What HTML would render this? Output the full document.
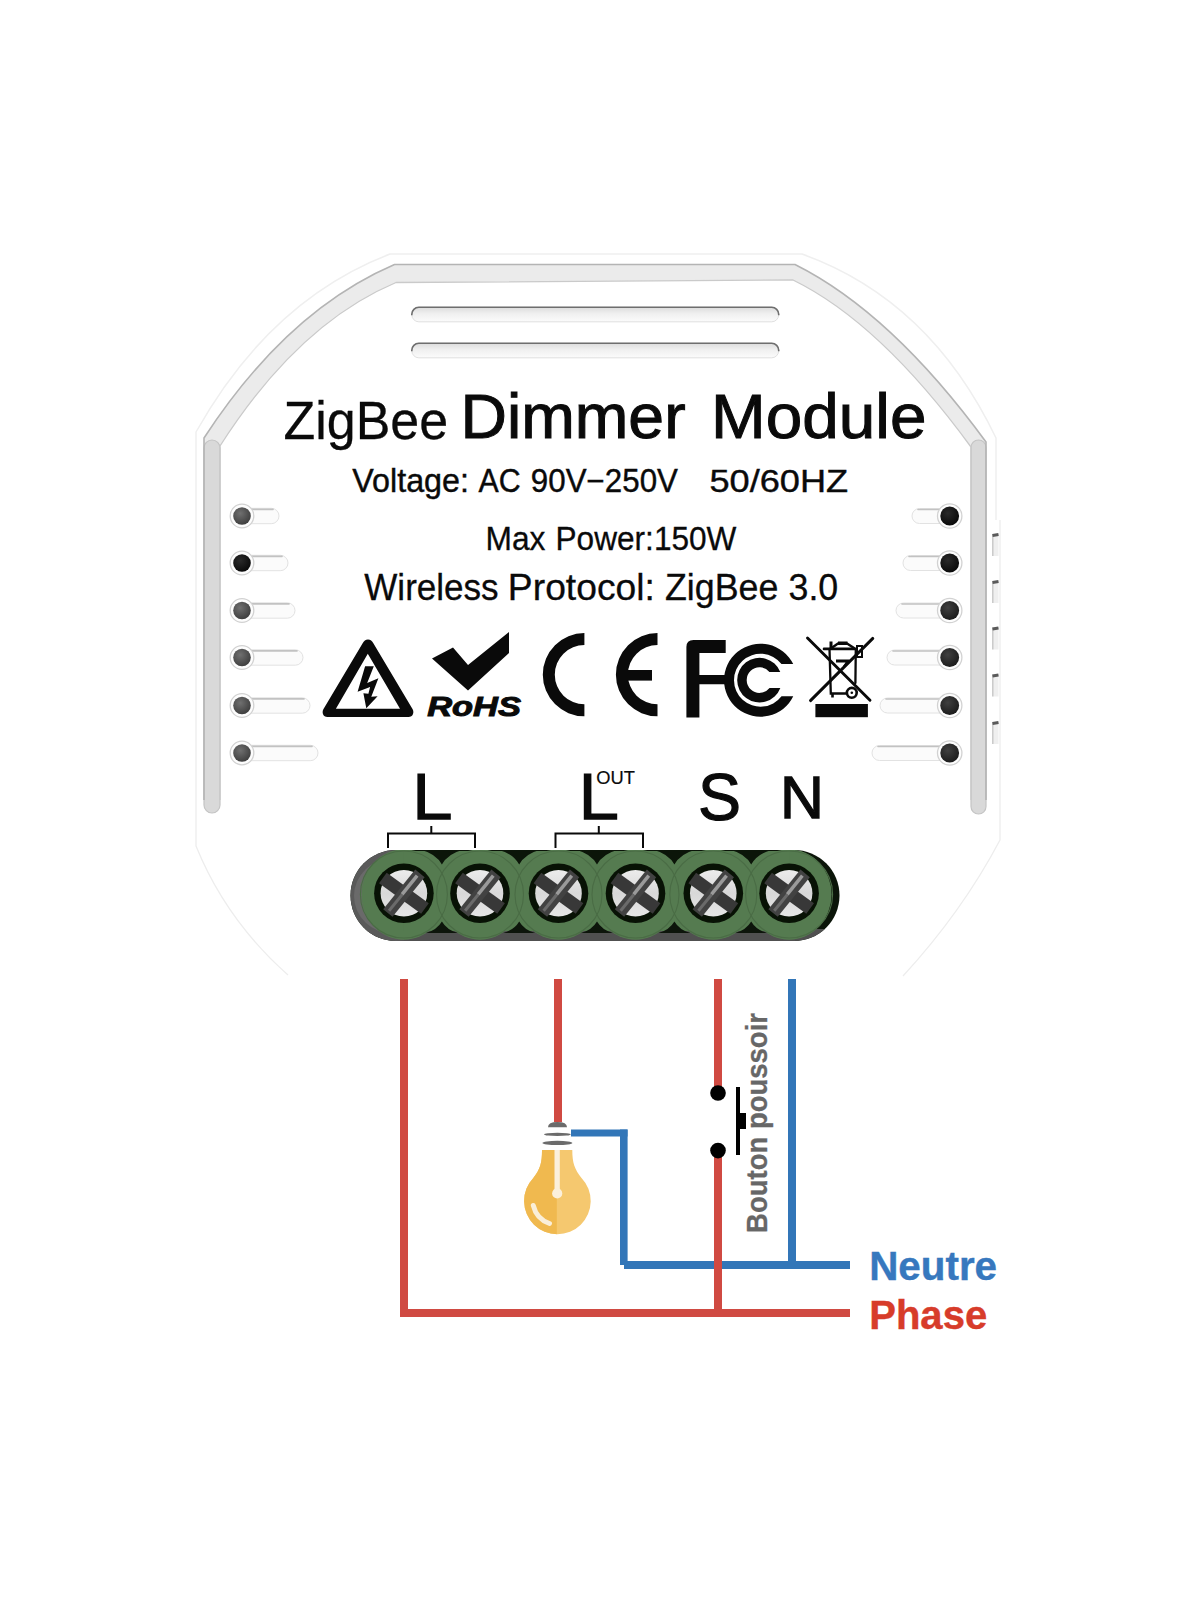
<!DOCTYPE html>
<html><head><meta charset="utf-8">
<style>
html,body{margin:0;padding:0;background:#fff;width:1200px;height:1600px;overflow:hidden}
svg{display:block}
text{font-family:"Liberation Sans",sans-serif}
</style></head>
<body>
<svg width="1200" height="1600" viewBox="0 0 1200 1600">
<defs>
<radialGradient id="dotg" cx="0.4" cy="0.35" r="0.7">
<stop offset="0" stop-color="#707070"/><stop offset="1" stop-color="#3c3c3c"/>
</radialGradient>
<radialGradient id="dotk" cx="0.4" cy="0.35" r="0.7">
<stop offset="0" stop-color="#2a2a2a"/><stop offset="1" stop-color="#080808"/>
</radialGradient>
<radialGradient id="dotr" cx="0.4" cy="0.35" r="0.7">
<stop offset="0" stop-color="#404040"/><stop offset="1" stop-color="#1a1a1a"/>
</radialGradient>
<linearGradient id="silver" x1="0" y1="0" x2="0" y2="1">
<stop offset="0" stop-color="#ececec"/><stop offset="0.5" stop-color="#d8d8d8"/><stop offset="1" stop-color="#e6e6e6"/>
</linearGradient>
<linearGradient id="blockside" x1="0" y1="0" x2="1" y2="0">
<stop offset="0" stop-color="#9a9a9a"/><stop offset="0.5" stop-color="#5a5a5a"/><stop offset="1" stop-color="#2a2a2a"/>
</linearGradient>
</defs>
<rect width="1200" height="1600" fill="#fff"/>

<path d="M196 520 L196 846 Q226 920 288 975 M1000 520 L1000 840 Q962 912 903 976" fill="none" stroke="#ededed" stroke-width="1.3"/>
<path d="M196 520 L196 432 Q270 300 390 254 L802 254 Q930 300 996 438 L996 520" fill="none" stroke="#efefef" stroke-width="1.5"/>
<path d="M204 800 L204 438 Q286.8 310.8 394.5 264.5 L795 264.5 Q891.5 312.8 986 442 L986 800 L971 800 L971 447 Q880.0 322.5 793 280 L396 282.5 Q298.0 323.8 220 446 L220 800 Z" fill="#ebebeb"/>
<rect x="204" y="440" width="16" height="373" rx="8" fill="#d9d9d9" stroke="#c4c4c4" stroke-width="1.2"/>
<rect x="971" y="440" width="15" height="374" rx="7.5" fill="#d9d9d9" stroke="#c4c4c4" stroke-width="1.2"/>
<path d="M204 800 L204 438 Q286.8 310.8 394.5 264.5 L795 264.5 Q891.5 312.8 986 442 L986 800" fill="none" stroke="#b4b4b4" stroke-width="1.6"/>
<path d="M220 800 L220 446 Q298.0 323.8 396 282.5 L793 280 Q880.0 322.5 971 447 L971 800" fill="none" stroke="#cacaca" stroke-width="1.3"/>
<clipPath id="bandclip"><rect x="150" y="200" width="900" height="604"/></clipPath>
<linearGradient id="ventg" x1="0" y1="0" x2="0" y2="1"><stop offset="0" stop-color="#dcdcdc"/><stop offset="0.45" stop-color="#f0f0f0"/><stop offset="1" stop-color="#fbfbfb"/></linearGradient>
<rect x="411.8" y="307.3" width="366.9" height="14.5" rx="7" fill="url(#ventg)" stroke="#d8d8d8" stroke-width="0.8"/>
<path d="M411.8 315.3 L411.8 314.3 A7 7 0 0 1 418.8 307.3 L771.7 307.3 A7 7 0 0 1 778.7 314.3 L778.7 315.3" fill="none" stroke="#6e6e6e" stroke-width="1.6"/>
<rect x="411.8" y="343.3" width="366.9" height="14.5" rx="7" fill="url(#ventg)" stroke="#d8d8d8" stroke-width="0.8"/>
<path d="M411.8 351.3 L411.8 350.3 A7 7 0 0 1 418.8 343.3 L771.7 343.3 A7 7 0 0 1 778.7 350.3 L778.7 351.3" fill="none" stroke="#6e6e6e" stroke-width="1.6"/>
<rect x="242" y="508.3" width="37" height="15.4" rx="7.7" fill="#fbfbfb" stroke="#e2e2e2" stroke-width="1"/>
<path d="M252 509.4 L273 509.4" stroke="#c2c2c2" stroke-width="1.6" stroke-linecap="round"/>
<circle cx="242" cy="516" r="11.8" fill="#fdfdfd" stroke="#d2d2d2" stroke-width="1.3"/>
<circle cx="242" cy="516" r="8.8" fill="url(#dotg)"/>
<rect x="912" y="508.5" width="37.700000000000045" height="15" rx="7.5" fill="#fbfbfb" stroke="#e2e2e2" stroke-width="1"/>
<path d="M918 509.5 L939.7 509.5" stroke="#c2c2c2" stroke-width="1.6" stroke-linecap="round"/>
<circle cx="949.7" cy="516" r="12.2" fill="#fdfdfd" stroke="#d2d2d2" stroke-width="1.3"/>
<circle cx="949.7" cy="516" r="9.4" fill="url(#dotk)"/>
<rect x="242" y="555.3" width="46" height="15.4" rx="7.7" fill="#fbfbfb" stroke="#e2e2e2" stroke-width="1"/>
<path d="M252 556.4 L282 556.4" stroke="#c2c2c2" stroke-width="1.6" stroke-linecap="round"/>
<circle cx="242" cy="563" r="11.8" fill="#fdfdfd" stroke="#d2d2d2" stroke-width="1.3"/>
<circle cx="242" cy="563" r="8.8" fill="url(#dotk)"/>
<rect x="903" y="555.5" width="46.700000000000045" height="15" rx="7.5" fill="#fbfbfb" stroke="#e2e2e2" stroke-width="1"/>
<path d="M909 556.5 L939.7 556.5" stroke="#c2c2c2" stroke-width="1.6" stroke-linecap="round"/>
<circle cx="949.7" cy="563" r="12.2" fill="#fdfdfd" stroke="#d2d2d2" stroke-width="1.3"/>
<circle cx="949.7" cy="563" r="9.4" fill="url(#dotk)"/>
<rect x="242" y="602.8" width="53" height="15.4" rx="7.7" fill="#fbfbfb" stroke="#e2e2e2" stroke-width="1"/>
<path d="M252 603.9 L289 603.9" stroke="#c2c2c2" stroke-width="1.6" stroke-linecap="round"/>
<circle cx="242" cy="610.5" r="11.8" fill="#fdfdfd" stroke="#d2d2d2" stroke-width="1.3"/>
<circle cx="242" cy="610.5" r="8.8" fill="url(#dotg)"/>
<rect x="896" y="603.0" width="53.700000000000045" height="15" rx="7.5" fill="#fbfbfb" stroke="#e2e2e2" stroke-width="1"/>
<path d="M902 604.0 L939.7 604.0" stroke="#c2c2c2" stroke-width="1.6" stroke-linecap="round"/>
<circle cx="949.7" cy="610.5" r="12.2" fill="#fdfdfd" stroke="#d2d2d2" stroke-width="1.3"/>
<circle cx="949.7" cy="610.5" r="9.4" fill="url(#dotr)"/>
<rect x="242" y="649.8" width="61" height="15.4" rx="7.7" fill="#fbfbfb" stroke="#e2e2e2" stroke-width="1"/>
<path d="M252 650.9 L297 650.9" stroke="#c2c2c2" stroke-width="1.6" stroke-linecap="round"/>
<circle cx="242" cy="657.5" r="11.8" fill="#fdfdfd" stroke="#d2d2d2" stroke-width="1.3"/>
<circle cx="242" cy="657.5" r="8.8" fill="url(#dotg)"/>
<rect x="887" y="650.0" width="62.700000000000045" height="15" rx="7.5" fill="#fbfbfb" stroke="#e2e2e2" stroke-width="1"/>
<path d="M893 651.0 L939.7 651.0" stroke="#c2c2c2" stroke-width="1.6" stroke-linecap="round"/>
<circle cx="949.7" cy="657.5" r="12.2" fill="#fdfdfd" stroke="#d2d2d2" stroke-width="1.3"/>
<circle cx="949.7" cy="657.5" r="9.4" fill="url(#dotr)"/>
<rect x="242" y="697.8" width="68" height="15.4" rx="7.7" fill="#fbfbfb" stroke="#e2e2e2" stroke-width="1"/>
<path d="M252 698.9 L304 698.9" stroke="#c2c2c2" stroke-width="1.6" stroke-linecap="round"/>
<circle cx="242" cy="705.5" r="11.8" fill="#fdfdfd" stroke="#d2d2d2" stroke-width="1.3"/>
<circle cx="242" cy="705.5" r="8.8" fill="url(#dotg)"/>
<rect x="880" y="698.0" width="69.70000000000005" height="15" rx="7.5" fill="#fbfbfb" stroke="#e2e2e2" stroke-width="1"/>
<path d="M886 699.0 L939.7 699.0" stroke="#c2c2c2" stroke-width="1.6" stroke-linecap="round"/>
<circle cx="949.7" cy="705.5" r="12.2" fill="#fdfdfd" stroke="#d2d2d2" stroke-width="1.3"/>
<circle cx="949.7" cy="705.5" r="9.4" fill="url(#dotr)"/>
<rect x="242" y="745.3" width="76" height="15.4" rx="7.7" fill="#fbfbfb" stroke="#e2e2e2" stroke-width="1"/>
<path d="M252 746.4 L312 746.4" stroke="#c2c2c2" stroke-width="1.6" stroke-linecap="round"/>
<circle cx="242" cy="753" r="11.8" fill="#fdfdfd" stroke="#d2d2d2" stroke-width="1.3"/>
<circle cx="242" cy="753" r="8.8" fill="url(#dotg)"/>
<rect x="872" y="745.5" width="77.70000000000005" height="15" rx="7.5" fill="#fbfbfb" stroke="#e2e2e2" stroke-width="1"/>
<path d="M878 746.5 L939.7 746.5" stroke="#c2c2c2" stroke-width="1.6" stroke-linecap="round"/>
<circle cx="949.7" cy="753" r="12.2" fill="#fdfdfd" stroke="#d2d2d2" stroke-width="1.3"/>
<circle cx="949.7" cy="753" r="9.4" fill="url(#dotr)"/>
<rect x="992.5" y="534" width="6" height="22" fill="#efefef"/>
<path d="M992.8 534 L992.8 556" stroke="#c4c4c4" stroke-width="1.3"/>
<path d="M992.5 535.5 L998.5 534.5" stroke="#5a5a5a" stroke-width="3"/>
<rect x="992.5" y="581" width="6" height="22" fill="#efefef"/>
<path d="M992.8 581 L992.8 603" stroke="#c4c4c4" stroke-width="1.3"/>
<path d="M992.5 582.5 L998.5 581.5" stroke="#5a5a5a" stroke-width="3"/>
<rect x="992.5" y="627.5" width="6" height="22" fill="#efefef"/>
<path d="M992.8 627.5 L992.8 649.5" stroke="#c4c4c4" stroke-width="1.3"/>
<path d="M992.5 629.0 L998.5 628.0" stroke="#5a5a5a" stroke-width="3"/>
<rect x="992.5" y="674.5" width="6" height="22" fill="#efefef"/>
<path d="M992.8 674.5 L992.8 696.5" stroke="#c4c4c4" stroke-width="1.3"/>
<path d="M992.5 676.0 L998.5 675.0" stroke="#5a5a5a" stroke-width="3"/>
<rect x="992.5" y="722" width="6" height="22" fill="#efefef"/>
<path d="M992.8 722 L992.8 744" stroke="#c4c4c4" stroke-width="1.3"/>
<path d="M992.5 723.5 L998.5 722.5" stroke="#5a5a5a" stroke-width="3"/>
<text x="283.50" y="438.60" font-size="54.07" fill="#0a0a0a" stroke="#0a0a0a" stroke-width="0.3" textLength="164.66" lengthAdjust="spacingAndGlyphs">ZigBee</text>
<text x="460.52" y="438.00" font-size="62.21" fill="#0a0a0a" stroke="#0a0a0a" stroke-width="1.0" textLength="225.04" lengthAdjust="spacingAndGlyphs">Dimmer</text>
<text x="711.12" y="438.20" font-size="62.07" fill="#0a0a0a" stroke="#0a0a0a" stroke-width="1.0" textLength="215.30" lengthAdjust="spacingAndGlyphs">Module</text>
<text x="352.31" y="492.00" font-size="32.41" fill="#0a0a0a" stroke="#0a0a0a" stroke-width="0.4" textLength="116.64" lengthAdjust="spacingAndGlyphs">Voltage:</text>
<text x="478.44" y="492.00" font-size="32.41" fill="#0a0a0a" stroke="#0a0a0a" stroke-width="0.4" textLength="42.11" lengthAdjust="spacingAndGlyphs">AC</text>
<text x="530.83" y="492.00" font-size="32.41" fill="#0a0a0a" stroke="#0a0a0a" stroke-width="0.4" textLength="147.11" lengthAdjust="spacingAndGlyphs">90V−250V</text>
<text x="709.45" y="492.05" font-size="32.12" fill="#0a0a0a" stroke="#0a0a0a" stroke-width="0.4" textLength="138.73" lengthAdjust="spacingAndGlyphs">50/60HZ</text>
<text x="485.55" y="549.60" font-size="33.36" fill="#0a0a0a" stroke="#0a0a0a" stroke-width="0.3" textLength="59.94" lengthAdjust="spacingAndGlyphs">Max</text>
<text x="555.56" y="549.60" font-size="33.36" fill="#0a0a0a" stroke="#0a0a0a" stroke-width="0.3" textLength="180.90" lengthAdjust="spacingAndGlyphs">Power:150W</text>
<text x="364.30" y="600.45" font-size="36.48" fill="#0a0a0a" stroke="#0a0a0a" stroke-width="0.3" textLength="134.32" lengthAdjust="spacingAndGlyphs">Wireless</text>
<text x="507.89" y="600.45" font-size="36.48" fill="#0a0a0a" stroke="#0a0a0a" stroke-width="0.3" textLength="147.06" lengthAdjust="spacingAndGlyphs">Protocol:</text>
<text x="665.01" y="600.45" font-size="36.48" fill="#0a0a0a" stroke="#0a0a0a" stroke-width="0.3" textLength="113.43" lengthAdjust="spacingAndGlyphs">ZigBee</text>
<text x="788.49" y="600.45" font-size="36.48" fill="#0a0a0a" stroke="#0a0a0a" stroke-width="0.3" textLength="49.76" lengthAdjust="spacingAndGlyphs">3.0</text>
<g fill="#0a0a0a">
<path d="M368 639.6 C370.5 639.6 372 641 373.5 643.5 L412.5 709 C414.5 712.5 413 717 408.5 717 L327.5 717 C323 717 321.5 712.5 323.5 709 L362.5 643.5 C364 641 365.5 639.6 368 639.6 Z M367.8 653.8 L335.9 708.8 L400 708.8 Z" fill-rule="evenodd"/>
<path d="M365.1 666.3 L373.8 666.3 L367.2 682.9 L378.4 678.3 L371.3 696.7 L377.6 696.3 L366.3 708.3 L363.4 693.3 L368.4 693.75 L370.1 687.1 L357.6 691.7 Z"/>
<path d="M432 658.5 L453 647.5 L468 665 L509 632 L509 653 L468 690.5 Z"/>
<text x="427.30" y="715.80" font-size="28.05" font-weight="bold" font-style="italic" fill="#0a0a0a" stroke="#0a0a0a" stroke-width="1.0" textLength="93.56" lengthAdjust="spacingAndGlyphs">RoHS</text>
<path d="M584.4 633.1 A41.6 41.6 0 0 0 584.4 716.3000000000001 L584.4 704.3000000000001 A29.6 29.6 0 0 1 584.4 645.1 Z"/>
<path d="M657.5 633.1 A41.6 41.6 0 0 0 657.5 716.3000000000001 L657.5 704.3000000000001 A29.6 29.6 0 0 1 657.5 645.1 Z"/>
<rect x="627" y="670" width="25" height="10.6"/>
<path d="M686.4 717.5 L686.4 647 Q686.4 640 693.5 640 L725.7 640 L725.7 653 L699.4 653 L699.4 675 L726 675 L726 684.2 L699.4 684.2 L699.4 717.5 Z"/>
<path d="M781.47 664 L793.21 664 A36.5 36.5 0 1 0 793.26 696.3 L781.55 696.3 A26.5 26.5 0 1 1 781.47 664 Z"/>
<path d="M769.41 672 L780.28 672 A22.3 22.3 0 1 0 780.35 688 L769.57 688 A12.8 12.8 0 1 1 769.41 672 Z"/>
<g stroke="#0a0a0a" fill="none" stroke-linecap="round">
<path d="M807.5 638 L870 700.3 M872.8 638.4 L810.5 700.6" stroke-width="2.9"/>
<path d="M829.5 649 L830.8 693.5 L846 693.5 M855.8 649 L855.4 683" stroke-width="2.3"/>
<path d="M824 648.9 L855 648.9" stroke-width="2.6"/>
<path d="M831.5 648 L838 643.5 L847 643.5 L854 648" stroke-width="2.4" stroke-linejoin="round"/>
<rect x="857" y="646" width="5" height="11" stroke-width="2"/>
<circle cx="851.8" cy="692.8" r="4.9" stroke-width="2.6"/>
</g>
<rect x="838" y="641.5" width="9.5" height="3.5" fill="#0a0a0a"/>
<rect x="829.5" y="641.5" width="3" height="7" fill="#0a0a0a"/>
<path d="M836 659.5 L849.5 659.5 L849.5 662.5 L845 666 L843 666 L845.5 662.5 L836 662.5 Z" fill="#0a0a0a"/>
<circle cx="851.8" cy="692.8" r="1.3" fill="#0a0a0a"/>
<rect x="831.2" y="693.5" width="2.6" height="4" fill="#0a0a0a"/>
<rect x="815.4" y="704" width="52.5" height="13.2"/>
</g>
<g fill="#0a0a0a">
<path d="M417.4 773.4 L425.0 773.4 L425.0 813.4 L450.79999999999995 813.4 L450.79999999999995 819.8 L417.4 819.8 Z"/>
<path d="M583.8 773.4 L591.4 773.4 L591.4 813.4 L617.1999999999999 813.4 L617.1999999999999 819.8 L583.8 819.8 Z"/>
<text x="596.23" y="783.65" font-size="18.97" fill="#0a0a0a" stroke="#0a0a0a" stroke-width="0.2" textLength="38.59" lengthAdjust="spacingAndGlyphs">OUT</text>
<text x="698" y="819.5" font-size="66" stroke="#0a0a0a" stroke-width="1.2" textLength="43" lengthAdjust="spacingAndGlyphs">S</text>
<text x="779.91" y="817.55" font-size="58.72" fill="#0a0a0a" stroke="#0a0a0a" stroke-width="1.3" textLength="43.89" lengthAdjust="spacingAndGlyphs">N</text>
</g>
<g stroke="#0a0a0a" stroke-width="2" fill="none">
<path d="M388 848 L388 833.5 L475 833.5 L475 848 M431.3 826 L431.3 833.5"/>
<path d="M555.5 848 L555.5 833.5 L643 833.5 L643 848 M598.8 826 L598.8 833.5"/>
</g>
<g>
<clipPath id="blk"><rect x="350.5" y="850" width="489" height="91" rx="45.5"/></clipPath>
<rect x="350.5" y="850" width="489" height="91" rx="45.5" fill="#0b1509"/>
<rect x="350" y="929" width="490" height="13" fill="#505050" clip-path="url(#blk)"/>
<clipPath id="leftend"><rect x="340" y="840" width="64" height="110"/></clipPath>
<ellipse cx="396" cy="895.5" rx="45.5" ry="45.5" fill="#5a5a5a" clip-path="url(#leftend)"/>
<ellipse cx="394" cy="896" rx="40" ry="38" fill="#6a6a6a" clip-path="url(#leftend)"/>
<g clip-path="url(#blk)">
<ellipse cx="403.9" cy="894.5" rx="42.5" ry="45.2" fill="#557b50"/>
<ellipse cx="480" cy="894.5" rx="42.5" ry="45.2" fill="#557b50"/>
<ellipse cx="558.5" cy="894.5" rx="42.5" ry="45.2" fill="#557b50"/>
<ellipse cx="635.5" cy="894.5" rx="42.5" ry="45.2" fill="#557b50"/>
<ellipse cx="713.3" cy="894.5" rx="42.5" ry="45.2" fill="#557b50"/>
<ellipse cx="789.1" cy="894.5" rx="42.5" ry="45.2" fill="#557b50"/>
<rect x="403.9" y="851" width="385.20000000000005" height="80" fill="#557b50"/>
<path d="M416.9 849 L466.9 849 Q448.9 852 441.9 864.5 Q434.9 852 416.9 849 Z" fill="#0b1509"/>
<path d="M425.9 933 Q436.9 930 441.9 921.5 Q446.9 930 457.9 933 Z" fill="#0d150b"/>
<path d="M494.2 849 L544.2 849 Q526.2 852 519.2 864.5 Q512.2 852 494.2 849 Z" fill="#0b1509"/>
<path d="M503.2 933 Q514.2 930 519.2 921.5 Q524.2 930 535.2 933 Z" fill="#0d150b"/>
<path d="M572.0 849 L622.0 849 Q604.0 852 597.0 864.5 Q590.0 852 572.0 849 Z" fill="#0b1509"/>
<path d="M581.0 933 Q592.0 930 597.0 921.5 Q602.0 930 613.0 933 Z" fill="#0d150b"/>
<path d="M649.4 849 L699.4 849 Q681.4 852 674.4 864.5 Q667.4 852 649.4 849 Z" fill="#0b1509"/>
<path d="M658.4 933 Q669.4 930 674.4 921.5 Q679.4 930 690.4 933 Z" fill="#0d150b"/>
<path d="M726.2 849 L776.2 849 Q758.2 852 751.2 864.5 Q744.2 852 726.2 849 Z" fill="#0b1509"/>
<path d="M735.2 933 Q746.2 930 751.2 921.5 Q756.2 930 767.2 933 Z" fill="#0d150b"/>
<circle cx="403.9" cy="894.5" r="43.5" fill="none" stroke="#4a6c45" stroke-width="1.1"/>
<circle cx="480" cy="894.5" r="43.5" fill="none" stroke="#4a6c45" stroke-width="1.1"/>
<circle cx="558.5" cy="894.5" r="43.5" fill="none" stroke="#4a6c45" stroke-width="1.1"/>
<circle cx="635.5" cy="894.5" r="43.5" fill="none" stroke="#4a6c45" stroke-width="1.1"/>
<circle cx="713.3" cy="894.5" r="43.5" fill="none" stroke="#4a6c45" stroke-width="1.1"/>
<circle cx="789.1" cy="894.5" r="43.5" fill="none" stroke="#4a6c45" stroke-width="1.1"/>
</g>
<circle cx="403.9" cy="893.2" r="29.8" fill="#081205"/>
<circle cx="403.9" cy="893.2" r="23.3" fill="url(#silver)"/>
<g transform="translate(403.9 893.2)">
<rect x="-26" y="-6.5" width="52" height="13" fill="#383838" transform="rotate(36)"/>
<rect x="-25.5" y="-6" width="51" height="12" fill="#424242" transform="rotate(-51)"/>
<rect x="-2" y="-2.5" width="24" height="3.5" fill="#9a9a9a" transform="rotate(-51)"/>
<rect x="-23" y="-2" width="21" height="3" fill="#6a6a6a" transform="rotate(-51)"/>
</g>
<circle cx="480" cy="893.2" r="29.8" fill="#081205"/>
<circle cx="480" cy="893.2" r="23.3" fill="url(#silver)"/>
<g transform="translate(480 893.2)">
<rect x="-26" y="-6.5" width="52" height="13" fill="#383838" transform="rotate(36)"/>
<rect x="-25.5" y="-6" width="51" height="12" fill="#424242" transform="rotate(-51)"/>
<rect x="-2" y="-2.5" width="24" height="3.5" fill="#9a9a9a" transform="rotate(-51)"/>
<rect x="-23" y="-2" width="21" height="3" fill="#6a6a6a" transform="rotate(-51)"/>
</g>
<circle cx="558.5" cy="893.2" r="29.8" fill="#081205"/>
<circle cx="558.5" cy="893.2" r="23.3" fill="url(#silver)"/>
<g transform="translate(558.5 893.2)">
<rect x="-26" y="-6.5" width="52" height="13" fill="#383838" transform="rotate(36)"/>
<rect x="-25.5" y="-6" width="51" height="12" fill="#424242" transform="rotate(-51)"/>
<rect x="-2" y="-2.5" width="24" height="3.5" fill="#9a9a9a" transform="rotate(-51)"/>
<rect x="-23" y="-2" width="21" height="3" fill="#6a6a6a" transform="rotate(-51)"/>
</g>
<circle cx="635.5" cy="893.2" r="29.8" fill="#081205"/>
<circle cx="635.5" cy="893.2" r="23.3" fill="url(#silver)"/>
<g transform="translate(635.5 893.2)">
<rect x="-26" y="-6.5" width="52" height="13" fill="#383838" transform="rotate(36)"/>
<rect x="-25.5" y="-6" width="51" height="12" fill="#424242" transform="rotate(-51)"/>
<rect x="-2" y="-2.5" width="24" height="3.5" fill="#9a9a9a" transform="rotate(-51)"/>
<rect x="-23" y="-2" width="21" height="3" fill="#6a6a6a" transform="rotate(-51)"/>
</g>
<circle cx="713.3" cy="893.2" r="29.8" fill="#081205"/>
<circle cx="713.3" cy="893.2" r="23.3" fill="url(#silver)"/>
<g transform="translate(713.3 893.2)">
<rect x="-26" y="-6.5" width="52" height="13" fill="#383838" transform="rotate(36)"/>
<rect x="-25.5" y="-6" width="51" height="12" fill="#424242" transform="rotate(-51)"/>
<rect x="-2" y="-2.5" width="24" height="3.5" fill="#9a9a9a" transform="rotate(-51)"/>
<rect x="-23" y="-2" width="21" height="3" fill="#6a6a6a" transform="rotate(-51)"/>
</g>
<circle cx="789.1" cy="893.2" r="29.8" fill="#081205"/>
<circle cx="789.1" cy="893.2" r="23.3" fill="url(#silver)"/>
<g transform="translate(789.1 893.2)">
<rect x="-26" y="-6.5" width="52" height="13" fill="#383838" transform="rotate(36)"/>
<rect x="-25.5" y="-6" width="51" height="12" fill="#424242" transform="rotate(-51)"/>
<rect x="-2" y="-2.5" width="24" height="3.5" fill="#9a9a9a" transform="rotate(-51)"/>
<rect x="-23" y="-2" width="21" height="3" fill="#6a6a6a" transform="rotate(-51)"/>
</g>
</g>
<g fill="#3276b8">
<rect x="788" y="979" width="8" height="290"/>
<rect x="624" y="1261" width="226" height="8"/>
<rect x="620" y="1129.5" width="7.6" height="135.5"/>
<rect x="571" y="1129.5" width="56.5" height="7"/>
</g>
<g fill="#d04a42">
<rect x="400" y="979" width="8" height="338"/>
<rect x="400" y="1309" width="450" height="8"/>
<rect x="554" y="979" width="8" height="143"/>
<rect x="714" y="979" width="8" height="114"/>
<rect x="714" y="1150" width="8" height="167"/>
</g>
<g fill="#000">
<circle cx="718" cy="1093" r="7.8"/><circle cx="718" cy="1150.6" r="7.8"/>
<rect x="736" y="1087" width="4" height="68"/><rect x="739" y="1113" width="7" height="16"/>
</g>
<g transform="translate(766.7 1231.25) rotate(-90)"><text x="-1.69" y="-0.15" font-size="29.07" font-weight="bold" fill="#676767" stroke="#676767" stroke-width="0.3" textLength="219.96" lengthAdjust="spacingAndGlyphs">Bouton poussoir</text></g>
<g>
<path d="M548 1127.3 Q548 1122 557.4 1122 Q567 1122 567 1127.3 Z" fill="#6b6b6b"/>
<ellipse cx="557.4" cy="1134.4" rx="13.3" ry="1.6" fill="#6b6b6b"/>
<ellipse cx="557.4" cy="1142.9" rx="14.9" ry="2.1" fill="#6b6b6b"/>
<path d="M542 1150 L572.3 1150 C572.3 1163 574.5 1169 581.5 1178 A33.3 33.3 0 1 1 533.3 1178 C540.3 1169 542 1163 542 1150 Z" fill="#f5c86f"/>
<clipPath id="lefthalf"><rect x="500" y="1140" width="56.8" height="120"/></clipPath>
<path d="M542 1150 L572.3 1150 C572.3 1163 574.5 1169 581.5 1178 A33.3 33.3 0 1 1 533.3 1178 C540.3 1169 542 1163 542 1150 Z" fill="#f0b94f" clip-path="url(#lefthalf)"/>
<rect x="554.5" y="1150" width="5.3" height="43" fill="#fbf0dc"/>
<circle cx="557.2" cy="1193.4" r="5.1" fill="#fbf0dc"/>
<path d="M533.3 1205.5 Q536.5 1219 549.5 1223.5" fill="none" stroke="#faefd9" stroke-width="5" stroke-linecap="round"/>
</g>
<text x="869.20" y="1280.40" font-size="40.70" font-weight="bold" fill="#3778be" stroke="#3778be" stroke-width="0.4" textLength="127.88" lengthAdjust="spacingAndGlyphs">Neutre</text>
<text x="869.22" y="1329.40" font-size="40.12" font-weight="bold" fill="#d73c2a" stroke="#d73c2a" stroke-width="0.4" textLength="117.95" lengthAdjust="spacingAndGlyphs">Phase</text>
</svg>
</body></html>
